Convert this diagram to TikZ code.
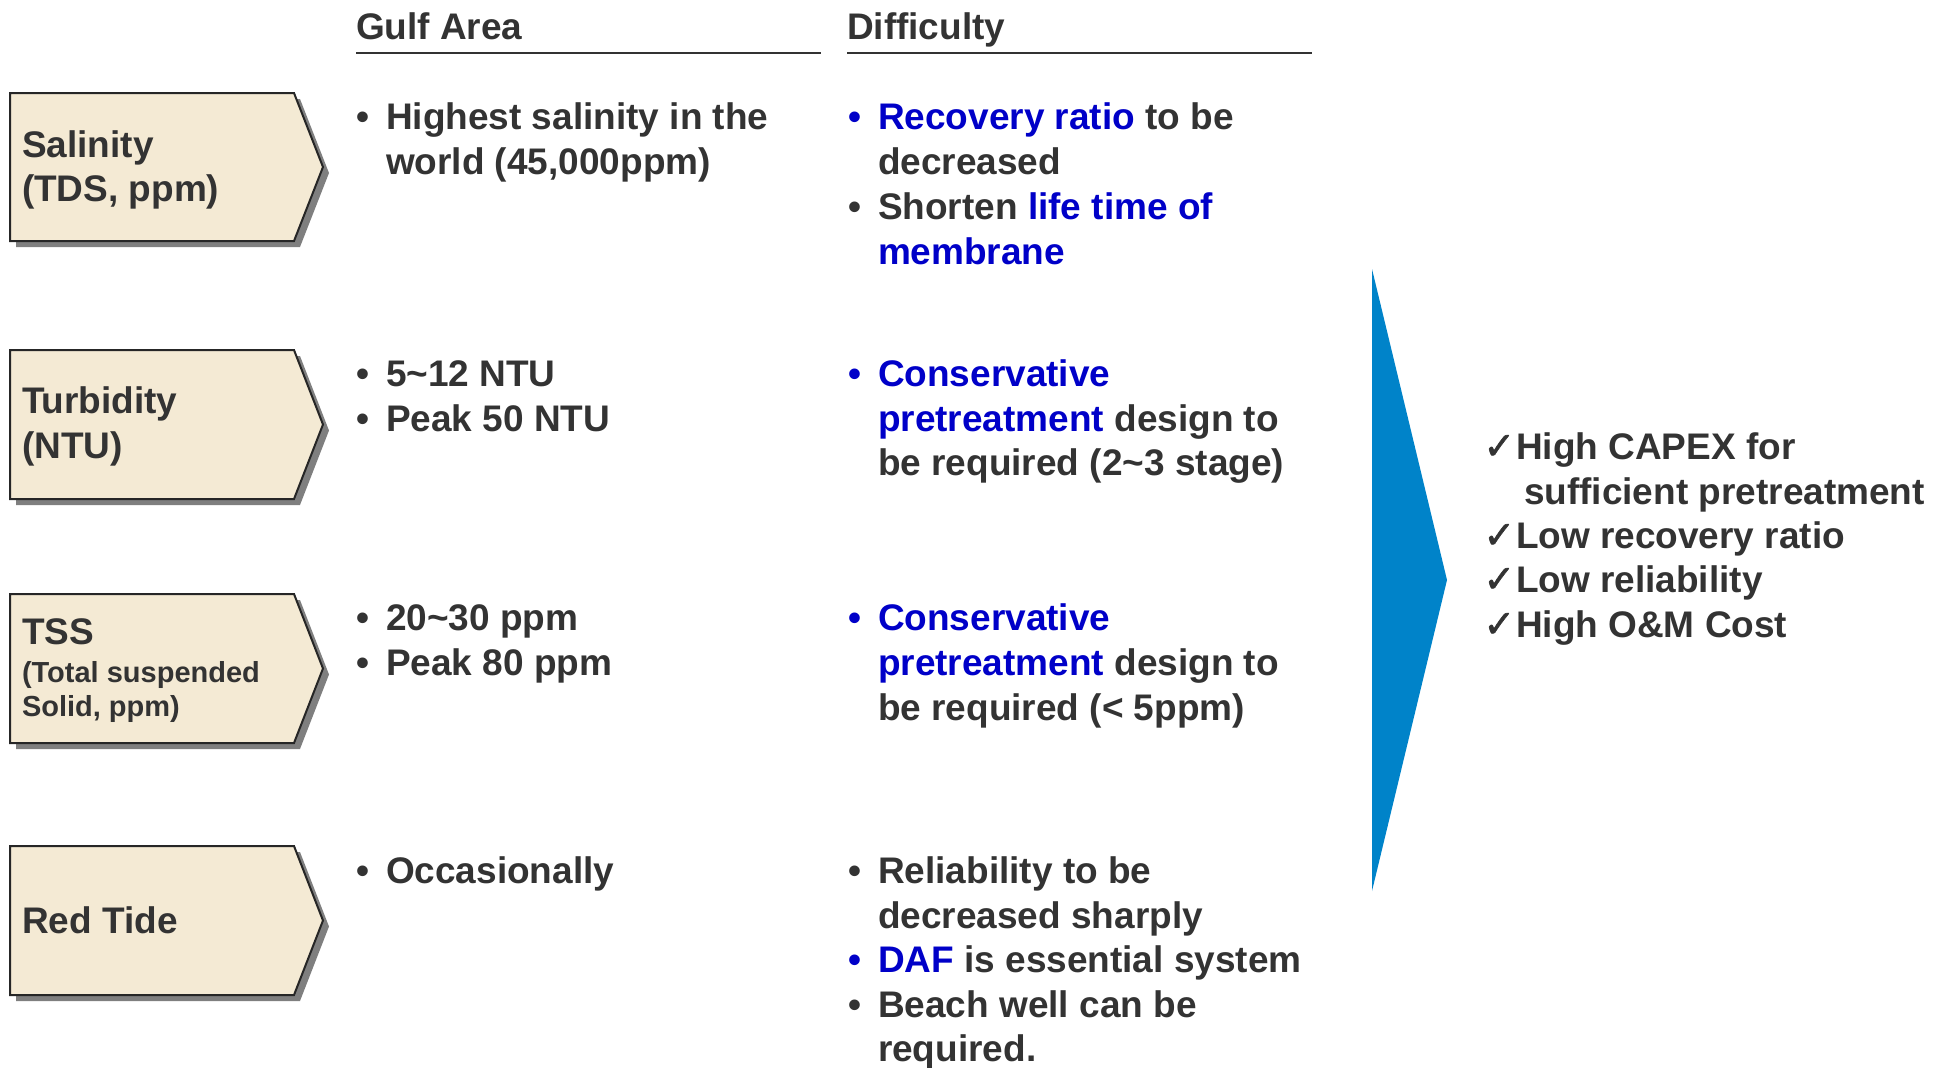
\documentclass[tikz,border=0pt]{standalone}
\usepackage{fontspec}
\setmainfont{Liberation Sans}
\newfontfamily\symfont[FakeBold=1.5]{DejaVu Sans}
\definecolor{ink}{HTML}{333333}
\definecolor{hiblue}{HTML}{0000C8}
\definecolor{arrowblue}{HTML}{0083C9}
\definecolor{tan}{HTML}{F4EAD4}
\definecolor{shade}{HTML}{7F7F7F}
\newcommand\bodyfont{\fontsize{18.5pt}{22pt}\selectfont\bfseries}
\newcommand\smallfont{\fontsize{14.5pt}{16pt}\selectfont\bfseries}
\newcommand\hb[1]{\textcolor{hiblue}{#1}}
\tikzset{
  txt/.style={font=\bodyfont, text=ink, anchor=base west, inner sep=0pt, outer sep=0pt},
  smalltxt/.style={txt, font=\smallfont},
  bul/.style={font=\bodyfont, text=ink, anchor=base, inner sep=0pt},
  bulblue/.style={bul, text=hiblue},
  chk/.style={font=\symfont\fontsize{19pt}{22pt}\selectfont, text=ink, anchor=base west, inner sep=0pt},
  rule/.style={draw=ink, line width=1.2pt},
  tag/.style={fill=tan, draw=black!85, line width=1pt, line join=miter},
  tagshadow/.style={fill=shade}
}
% draw one pentagon tag with its drop shadow: #1 = top, #2 = bottom
\newcommand\tagshape[2]{%
  \fill[tagshadow] (16,#1+6) -- (300,#1+6) -- (329,{(#1+#2)/2+6}) -- (300,#2+6) -- (16,#2+6) -- cycle;
  \draw[tag] (10,#1) -- (294,#1) -- (323,{(#1+#2)/2}) -- (294,#2) -- (10,#2) -- cycle;
}
\begin{document}
\begin{tikzpicture}[x=0.5pt, y=-0.5pt]
\useasboundingbox (0,0) rectangle (1945,1067);

% column headers
\node[txt] (hgulf) at (356,39) {Gulf Area};
\node[txt] (hdiff) at (847,39) {Difficulty};
\coordinate (gl0) at (356,53);
\coordinate (gl1) at (821,53);
\coordinate (dl0) at (847,53);
\coordinate (dl1) at (1312,53);
\draw[rule] (gl0) -- (gl1);
\draw[rule] (dl0) -- (dl1);

% left tags
\tagshape{93}{241}
\tagshape{350}{499}
\tagshape{594}{743}
\tagshape{846}{995}
\node[txt] (t1a) at (22,157) {Salinity};
\node[txt] (t1b) at (22,201) {(TDS, ppm)};
\node[txt] (t2a) at (22,413) {Turbidity};
\node[txt] (t2b) at (22,458) {(NTU)};
\node[txt] (t3a) at (22,644) {TSS};
\node[smalltxt] (t3b) at (22,682) {(Total suspended};
\node[smalltxt] (t3c) at (22,716) {Solid, ppm)};
\node[txt] (t4a) at (22,933) {Red Tide};

% Gulf Area column
\node[bul] (gb1) at (363,129) {•};
\node[txt] (g1a) at (386,129) {Highest salinity in the};
\node[txt] (g1b) at (386,174) {world (45,000ppm)};
\node[bul] (gb2) at (363,386) {•};
\node[txt] (g2a) at (386,386) {5\textasciitilde12 NTU};
\node[bul] (gb3) at (363,431) {•};
\node[txt] (g2b) at (386,431) {Peak 50 NTU};
\node[bul] (gb4) at (363,630) {•};
\node[txt] (g3a) at (386,630) {20\textasciitilde30 ppm};
\node[bul] (gb5) at (363,675) {•};
\node[txt] (g3b) at (386,675) {Peak 80 ppm};
\node[bul] (gb6) at (363,883) {•};
\node[txt] (g4a) at (386,883) {Occasionally};

% Difficulty column
\node[bulblue] (db1) at (855,129) {•};
\node[txt] (d1a) at (878,129) {\hb{Recovery ratio} to be};
\node[txt] (d1b) at (878,174) {decreased};
\node[bul] (db2) at (855,219) {•};
\node[txt] (d1c) at (878,219) {Shorten \hb{life time of}};
\node[txt] (d1d) at (878,264) {\hb{membrane}};

\node[bulblue] (db3) at (855,386) {•};
\node[txt] (d2a) at (878,386) {\hb{Conservative}};
\node[txt] (d2b) at (878,431) {\hb{pretreatment} design to};
\node[txt] (d2c) at (878,475) {be required (2\textasciitilde3 stage)};

\node[bulblue] (db4) at (855,630) {•};
\node[txt] (d3a) at (878,630) {\hb{Conservative}};
\node[txt] (d3b) at (878,675) {\hb{pretreatment} design to};
\node[txt] (d3c) at (878,720) {be required (< 5ppm)};

\node[bul] (db5) at (855,883) {•};
\node[txt] (d4a) at (878,883) {Reliability to be};
\node[txt] (d4b) at (878,928) {decreased sharply};
\node[bulblue] (db6) at (855,972) {•};
\node[txt] (d4c) at (878,972) {\hb{DAF} is essential system};
\node[bul] (db7) at (855,1017) {•};
\node[txt] (d4d) at (878,1017) {Beach well can be};
\node[txt] (d4e) at (878,1061) {required.};

% big blue chevron
\fill[arrowblue] (1372,269) -- (1447,580) -- (1372,891) -- cycle;

% conclusions
\node[chk] (c1) at (1483,459) {✓};
\node[txt] (r1a) at (1516,459) {High CAPEX for};
\node[txt] (r1b) at (1524,504) {sufficient pretreatment};
\node[chk] (c2) at (1483,548) {✓};
\node[txt] (r2) at (1516,548) {Low recovery ratio};
\node[chk] (c3) at (1483,592) {✓};
\node[txt] (r3) at (1516,592) {Low reliability};
\node[chk] (c4) at (1483,637) {✓};
\node[txt] (r4) at (1516,637) {High O\&M Cost};
\end{tikzpicture}
\end{document}
